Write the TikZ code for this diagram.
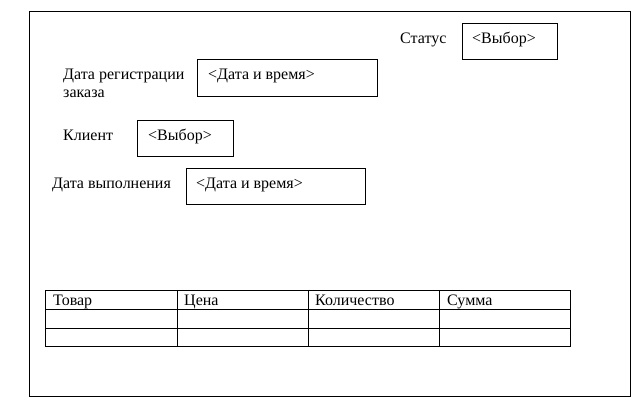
\documentclass[tikz,border=0pt]{standalone}
\usepackage{fontspec}
\setmainfont{Liberation Serif}
\begin{document}
\begin{tikzpicture}[x=1pt,y=-1pt,
  fld/.style={draw=black,line width=1pt},
  lbl/.style={anchor=base west,inner sep=0pt,font=\fontsize{16}{19}\selectfont}]
\useasboundingbox (0,0) rectangle (639,409);
\draw[line width=1pt] (29,12) rectangle (630,396);
% Status
\node[lbl] (statl) at (400,44) {Статус};
\draw[fld] (462,24) rectangle (557,60);
\node[lbl] (statv) at (472,44) {<Выбор>};
% Registration date
\node[lbl] (regl) at (63,80) {Дата регистрации};
\node[lbl] (regl2) at (63,98) {заказа};
\draw[fld] (197,60) rectangle (377,97);
\node[lbl] (regv) at (208,80) {<Дата и время>};
% Client
\node[lbl] (clil) at (63,140) {Клиент};
\draw[fld] (137,120) rectangle (233,156);
\node[lbl] (cliv) at (148,140) {<Выбор>};
% Completion date
\node[lbl] (donel) at (52,188) {Дата выполнения};
\draw[fld] (186,168) rectangle (365,204);
\node[lbl] (donev) at (196,188) {<Дата и время>};
% Table
\draw[fld] (45,290) rectangle (570,346);
\foreach \yy in {309,328} \draw[fld] (45,\yy) -- (570,\yy);
\foreach \xx in {177,308,439} \draw[fld] (\xx,290) -- (\xx,346);
\node[lbl] (c1) at (53,305) {Товар};
\node[lbl] (c2) at (184,305) {Цена};
\node[lbl] (c3) at (315,305) {Количество};
\node[lbl] (c4) at (447,305) {Сумма};
\end{tikzpicture}
\end{document}
